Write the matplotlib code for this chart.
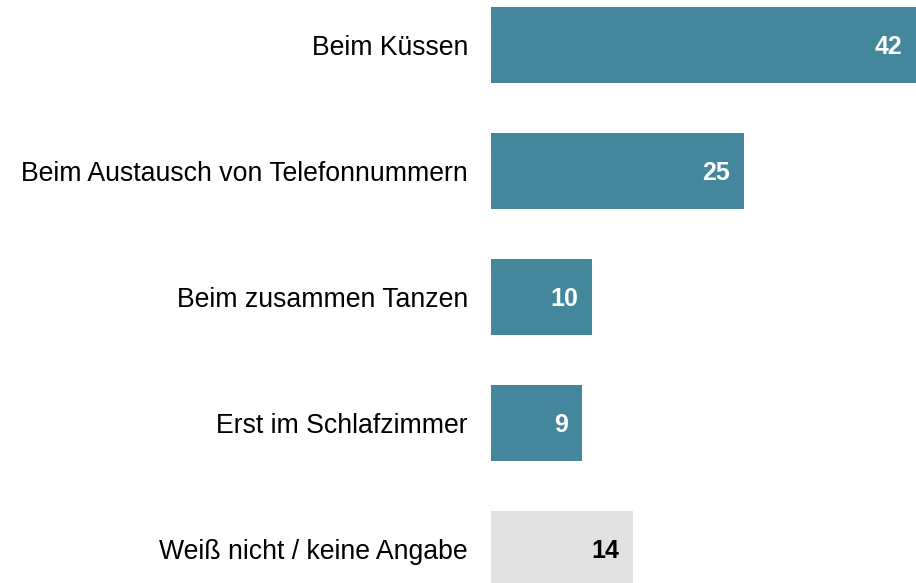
import matplotlib.pyplot as plt

categories = ['Beim Küssen', 'Beim Austausch von Telefonnummern', 'Beim zusammen Tanzen',
              'Erst im Schlafzimmer', 'Weiß nicht / keine Angabe']
values = [42, 25, 10, 9, 14]
bar_colors = ['#44869b', '#44869b', '#44869b', '#44869b', '#e1e1e1']
text_colors = ['white', 'white', 'white', 'white', 'black']

plt.rcParams['font.family'] = ['Liberation Sans', 'DejaVu Sans']

fig = plt.figure(figsize=(9.16, 5.83), dpi=100)
ax = fig.add_axes([491 / 916, 0, 1 - 491 / 916, 1])

pos = list(range(len(categories)))
ax.barh(pos, values, height=0.6, color=bar_colors)
ax.set_xlim(0, 42)
ax.set_ylim(4.27, -0.357)

ax.set_yticks(pos)
ax.set_yticklabels(categories, fontsize=19.2)
ax.tick_params(axis='y', length=0, pad=16.5)
ax.set_xticks([])
for s in ax.spines.values():
    s.set_visible(False)

for p, v, c in zip(pos, values, text_colors):
    ax.annotate(str(v), (v, p), xytext=(-10, -1.5), textcoords='offset points',
                ha='right', va='center', fontsize=18, fontweight='bold', color=c)

fig.savefig('out.png', dpi=100)
